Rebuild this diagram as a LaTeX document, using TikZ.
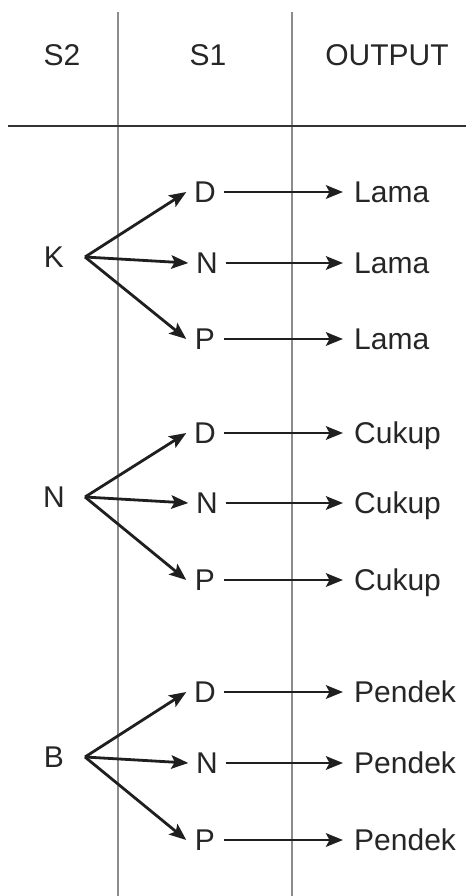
\documentclass[tikz,border=0pt]{standalone}
\usepackage{fontspec}
\setmainfont{Liberation Sans}
\usetikzlibrary{arrows.meta}
\begin{document}
\begin{tikzpicture}[x=1pt,y=-1pt,
  lbl/.style={inner sep=0pt, text height=21.5pt, text depth=0pt, font=\fontsize{30}{32}\selectfont, text=black!85},
  s1node/.style={lbl, minimum width=37pt},
  outnode/.style={lbl, anchor=west, inner xsep=11pt},
  arr/.style={line width=2.8pt, draw=black!88, -{Stealth[length=17pt,width=13.5pt,inset=3.5pt]}},
  gridline/.style={draw=black!45, line width=1.6pt},
  headline/.style={draw=black!80, line width=2pt}
]
\useasboundingbox (0,0) rectangle (466,896);
% table lines
\draw[gridline] (118,12) -- (118,896);
\draw[gridline] (292,12) -- (292,896);
\draw[headline] (8,126) -- (466,126);
% headers
\node[lbl] (hS2) at (62,55) {S2};
\node[lbl] (hS1) at (208,55) {S1};
\node[lbl] (hOut) at (387,55) {OUTPUT};
% groups
\foreach \g/\yj/\yd/\yn/\yp/\o in {K/257/192/263/339/Lama, N/497/433/503/580/Cukup, B/757/692/763/840/Pendek}{
  \node[lbl] (s\g) at (54,\yj) {\g};
  \coordinate (j\g) at (85,\yj);
  \node[s1node] (d\g) at (205,\yd) {D};
  \node[s1node] (n\g) at (207,\yn) {N};
  \node[s1node] (p\g) at (205,\yp) {P};
  \node[outnode] (od\g) at (343,\yd) {\o};
  \node[outnode] (on\g) at (343,\yn) {\o};
  \node[outnode] (op\g) at (343,\yp) {\o};
  \draw[arr] (j\g) -- (d\g.west);
  \draw[arr] (j\g) -- (n\g.west);
  \draw[arr] (j\g) -- (p\g.west);
  \draw[arr] (d\g.east) -- (od\g.west);
  \draw[arr] (n\g.east) -- (on\g.west);
  \draw[arr] (p\g.east) -- (op\g.west);
}
\end{tikzpicture}
\end{document}
